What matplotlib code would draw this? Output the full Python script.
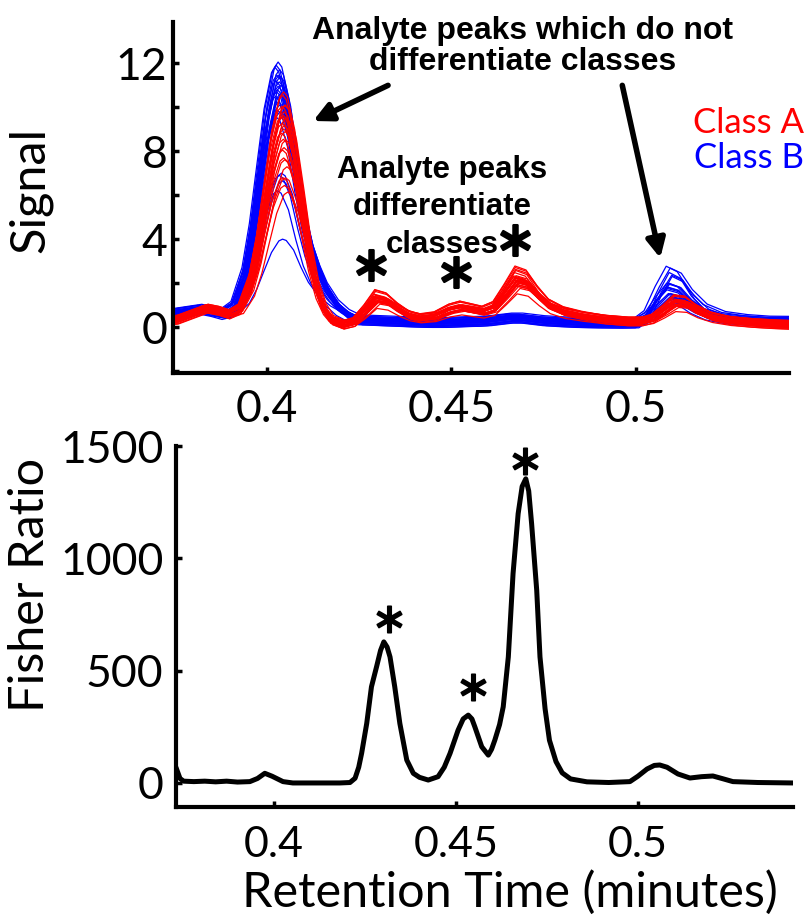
import matplotlib
matplotlib.use('Agg')
import matplotlib.pyplot as plt
from matplotlib.ticker import MultipleLocator
import numpy as np

# retention time grid (minutes) for the signal traces
rt = [0.370, 0.374, 0.378, 0.382, 0.385, 0.388, 0.391, 0.394, 0.396, 0.398,
      0.400, 0.402, 0.403, 0.404, 0.406, 0.408, 0.410, 0.412, 0.414, 0.416,
      0.419, 0.422, 0.425, 0.428, 0.431, 0.434, 0.437, 0.440, 0.444, 0.448,
      0.451, 0.454, 0.457, 0.460, 0.463, 0.466, 0.469, 0.472, 0.475, 0.479,
      0.484, 0.490, 0.496, 0.500, 0.503, 0.506, 0.509, 0.512, 0.515, 0.519,
      0.524, 0.530, 0.536, 0.542]

# class A (red) profiles
base_A = [0.30, 0.35, 0.60, 0.85, 0.75, 0.50, 0.35, 0.30, 0.30, 0.30,
          0.30, 0.30, 0.30, 0.30, 0.30, 0.30, 0.30, 0.28, 0.22, 0.15,
          0.12, 0.15, 0.20, 0.25, 0.28, 0.30, 0.30, 0.30, 0.30, 0.30,
          0.30, 0.30, 0.30, 0.30, 0.30, 0.30, 0.30, 0.30, 0.30, 0.30,
          0.30, 0.28, 0.25, 0.25, 0.25, 0.25, 0.25, 0.25, 0.22, 0.20,
          0.18, 0.15, 0.12, 0.10]
main_A = [0.0, 0.0, 0.0, 0.0, 0.0, 0.01, 0.056, 0.198, 0.375, 0.607,
          0.835, 0.98, 1.0, 0.98, 0.835, 0.60, 0.35, 0.17, 0.07, 0.02,
          0.0, 0.0, 0.0, 0.0, 0.0, 0.0, 0.0, 0.0, 0.0, 0.0,
          0.0, 0.0, 0.0, 0.0, 0.0, 0.0, 0.0, 0.0, 0.0, 0.0,
          0.0, 0.0, 0.0, 0.0, 0.0, 0.0, 0.0, 0.0, 0.0, 0.0,
          0.0, 0.0, 0.0, 0.0]
minor_A = [0.0, 0.0, 0.0, 0.0, 0.0, 0.0, 0.0, 0.0, 0.0, 0.0,
           0.0, 0.0, 0.0, 0.0, 0.0, 0.0, 0.0, 0.0, 0.0, 0.0,
           0.0, 0.10, 0.55, 1.10, 0.95, 0.55, 0.25, 0.12, 0.20, 0.50,
           0.62, 0.52, 0.42, 0.60, 1.25, 1.95, 1.80, 1.20, 0.70, 0.40,
           0.22, 0.08, 0.02, 0.02, 0.15, 0.50, 0.90, 0.85, 0.55, 0.28,
           0.12, 0.05, 0.02, 0.0]

# class B (blue) profiles
base_B = [0.60, 0.60, 0.70, 0.80, 0.70, 0.50, 0.35, 0.30, 0.32, 0.35,
          0.38, 0.40, 0.41, 0.42, 0.44, 0.46, 0.48, 0.48, 0.46, 0.42,
          0.38, 0.35, 0.32, 0.30, 0.28, 0.26, 0.24, 0.22, 0.20, 0.20,
          0.22, 0.24, 0.25, 0.28, 0.34, 0.40, 0.40, 0.34, 0.28, 0.24,
          0.20, 0.18, 0.17, 0.18, 0.20, 0.22, 0.24, 0.26, 0.28, 0.30,
          0.30, 0.28, 0.26, 0.25]
main_B = [0.0, 0.0, 0.0, 0.0, 0.0, 0.01, 0.056, 0.198, 0.375, 0.607,
          0.835, 0.98, 1.0, 0.98, 0.85, 0.62, 0.42, 0.29, 0.20, 0.13,
          0.06, 0.02, 0.0, 0.0, 0.0, 0.0, 0.0, 0.0, 0.0, 0.0,
          0.0, 0.0, 0.0, 0.0, 0.0, 0.0, 0.0, 0.0, 0.0, 0.0,
          0.0, 0.0, 0.0, 0.0, 0.0, 0.0, 0.0, 0.0, 0.0, 0.0,
          0.0, 0.0, 0.0, 0.0]
minor_B = [0.0, 0.0, 0.0, 0.0, 0.0, 0.0, 0.0, 0.0, 0.0, 0.0,
           0.0, 0.0, 0.0, 0.0, 0.0, 0.0, 0.0, 0.0, 0.0, 0.0,
           0.0, 0.0, 0.0, 0.0, 0.0, 0.0, 0.0, 0.0, 0.0, 0.0,
           0.0, 0.0, 0.0, 0.0, 0.0, 0.0, 0.0, 0.0, 0.0, 0.0,
           0.0, 0.0, 0.0, 0.0, 0.20, 0.80, 1.30, 1.15, 0.70, 0.30,
           0.10, 0.03, 0.0, 0.0]

# per-sample peak heights / offsets / time shifts
amp_A = [10.4, 10.1, 9.9, 9.7, 9.6, 9.5, 9.4, 9.3, 9.2, 9.1, 9.0, 8.9, 8.8,
         8.6, 8.5, 8.3, 8.1, 7.9, 7.7, 7.5, 7.3, 7.0, 6.6, 6.3, 6.1, 5.9]
mult_A = [1.0, 1.2, 0.9, 1.1, 0.85, 1.25, 0.95, 1.05, 0.8, 1.15, 0.98, 0.9,
          1.08, 0.75, 1.03, 0.93, 1.12, 0.86, 0.97, 0.72, 1.0, 0.88, 0.95,
          0.82, 0.92, 0.78]
off_A = [0.0, 0.15, -0.1, 0.05, 0.2, -0.15, 0.1, -0.05, 0.0, 0.18, -0.12,
         0.08, -0.2, 0.12, 0.03, -0.08, 0.15, -0.03, 0.06, -0.18, 0.1, 0.0,
         -0.1, 0.2, 0.05, -0.05]
shift_A = [0.0015, 0.0012, 0.0018, 0.0010, 0.0020, 0.0014, 0.0016, 0.0008,
           0.0022, 0.0013, 0.0017, 0.0011, 0.0019, 0.0015, 0.0009, 0.0021,
           0.0014, 0.0016, 0.0012, 0.0018, 0.0015, 0.0024, 0.0013, 0.0020,
           0.0017, 0.0026]

amp_B = [11.8, 11.4, 11.3, 11.2, 11.1, 11.0, 10.9, 10.8, 10.7, 10.6, 10.5,
         10.4, 10.3, 10.2, 10.1, 10.0, 9.9, 9.7, 9.5, 9.3, 9.0, 6.7, 6.5,
         6.2, 6.0, 3.5]
mult_B = [1.85, 1.1, 0.9, 1.8, 0.95, 1.3, 0.85, 1.75, 1.05, 0.8, 1.7, 1.0,
          0.9, 1.15, 1.6, 0.95, 1.2, 0.85, 1.4, 0.75, 1.1, 0.7, 1.0, 0.65,
          0.8, 0.6]
off_B = [-0.15, 0.1, 0.0, 0.2, -0.1, 0.05, 0.15, -0.2, 0.1, -0.05, 0.25,
         0.0, -0.1, 0.1, 0.05, -0.15, 0.2, 0.0, -0.05, 0.1, 0.15, -0.1, 0.0,
         0.05, -0.2, 0.1]
shift_B = [0.0, -0.0005, 0.0004, -0.0008, 0.0006, 0.0002, -0.0003, 0.0008,
           -0.0006, 0.0, 0.0003, -0.0002, 0.0005, -0.0004, 0.0007, 0.0001,
           -0.0007, 0.0004, -0.0001, 0.0006, -0.0005, 0.0009, 0.0003, 0.0011,
           -0.0002, 0.0012]

# Fisher ratio trace
fisher_rt = [0.3733, 0.3742, 0.3752, 0.3780, 0.3810, 0.3840, 0.3870, 0.3900,
             0.3934, 0.3955, 0.3975, 0.3995, 0.4025, 0.4052, 0.4100, 0.4150,
             0.4181, 0.4209, 0.4223, 0.4233, 0.4241, 0.4255, 0.4268, 0.4282,
             0.4293, 0.4302, 0.4311, 0.4319, 0.4332, 0.4346, 0.4365, 0.4383,
             0.4400, 0.4424, 0.4451, 0.4468, 0.4484, 0.4506, 0.4520, 0.4534,
             0.4544, 0.4552, 0.4571, 0.4589, 0.4598, 0.4607, 0.4620, 0.4630,
             0.4644, 0.4657, 0.4671, 0.4682, 0.4692, 0.4700, 0.4708, 0.4722,
             0.4731, 0.4745, 0.4757, 0.4775, 0.4792, 0.4815, 0.4860, 0.4920,
             0.4978, 0.5000, 0.5025, 0.5045, 0.5060, 0.5080, 0.5110, 0.5143,
             0.5175, 0.5206, 0.5235, 0.5261, 0.5330, 0.5426]
fisher_val = [60, 20, 8, 6, 8, 5, 8, 4, 6, 20, 43, 30, 6, 0, 0, 0,
              0, 2, 21, 70, 132, 265, 428, 517, 590, 628, 605, 561, 428,
              265, 102, 43, 25, 13, 28, 70, 132, 235, 285, 302, 285, 250,
              161, 124, 150, 191, 260, 339, 561, 932, 1199, 1320, 1354,
              1300, 1154, 858, 561, 330, 190, 95, 45, 18, 5, 2, 6, 30, 62,
              78, 80, 70, 40, 22, 28, 31, 18, 6, 2, 0]

star_top_rt = [0.4282, 0.4513, 0.4673]
star_top_val = [2.85, 2.5, 3.95]
star_bot_rt = [0.4317, 0.4548, 0.4690]
star_bot_val = [732, 428, 1435]

xticks = [0.4, 0.45, 0.5]
xticklabels = ['0.4', '0.45', '0.5']

cal = 'Lato'
bold = 'Liberation Sans'

fig = plt.figure(figsize=(8.08, 9.16), dpi=100)
ax1 = fig.add_axes([0.2141, 0.5931, 0.7624, 0.3829])
ax2 = fig.add_axes([0.2178, 0.1190, 0.7636, 0.3941])

x = np.array(rt)
for i in range(len(amp_B)):
    y = np.array(base_B) + off_B[i] + amp_B[i] * np.array(main_B) + mult_B[i] * np.array(minor_B)
    ax1.plot(x + shift_B[i], y, color='#0000ff', lw=0.9)
for i in range(len(amp_A)):
    y = np.array(base_A) + off_A[i] + amp_A[i] * np.array(main_A) + mult_A[i] * np.array(minor_A)
    ax1.plot(x + shift_A[i], y, color='#ff0000', lw=0.9)

ax2.plot(fisher_rt, fisher_val, color='k', lw=3.6, solid_joinstyle='round')

for ax in (ax1, ax2):
    ax.spines['top'].set_visible(False)
    ax.spines['right'].set_visible(False)
    ax.spines['left'].set_linewidth(3)
    ax.spines['bottom'].set_linewidth(3)
    ax.tick_params(which='both', direction='in', length=4, width=2.5)
    ax.set_xticks(xticks)
    ax.set_xticklabels(xticklabels, family=cal)

ax1.tick_params(axis='x', labelsize=32, pad=12)
ax2.tick_params(axis='x', labelsize=31, pad=14)

ax1.set_xlim(0.3745, 0.5415)
ax1.set_ylim(-2.06, 13.88)
ax1.set_yticks([0, 4, 8, 12])
ax1.yaxis.set_minor_locator(MultipleLocator(2))
ax1.tick_params(axis='y', labelsize=32, pad=4)
ax1.set_yticklabels(['0', '4', '8', '12'], family=cal)
ax1.set_ylabel('Signal', fontsize=35, family=cal, va='center')
ax1.yaxis.set_label_coords(-0.232, 0.52)

ax2.set_xlim(0.3731, 0.5426)
ax2.set_ylim(-107, 1500)
ax2.set_yticks([0, 500, 1000, 1500])
ax2.tick_params(axis='y', labelsize=32, pad=9)
ax2.set_yticklabels(['0', '500', '1000', '1500'], family=cal)
ax2.set_ylabel('Fisher Ratio', fontsize=35, family=cal, va='center')
ax2.yaxis.set_label_coords(-0.237, 0.615)
ax2.set_xlabel('Retention Time (minutes)', fontsize=35, family=cal, va='center')
ax2.xaxis.set_label_coords(0.541, -0.237)

ax1.plot(star_top_rt, star_top_val, ls='none', marker=r'$\ast$', ms=22,
         color='k', mew=1.8, clip_on=False)
ax2.plot(star_bot_rt, star_bot_val, ls='none', marker=r'$\ast$', ms=19,
         color='k', mew=1.2, clip_on=False)

ax1.annotate('', xy=(0.4125, 9.38), xytext=(0.4328, 11.0),
             arrowprops=dict(arrowstyle='-|>', lw=4, color='k', mutation_scale=28,
                             shrinkA=0, shrinkB=0))
ax1.annotate('', xy=(0.5066, 3.15), xytext=(0.4963, 11.0),
             arrowprops=dict(arrowstyle='-|>', lw=4, color='k', mutation_scale=28,
                             shrinkA=0, shrinkB=0))
ax1.text(0.4692, 12.75, 'Analyte peaks which do not\ndifferentiate classes',
         ha='center', va='center', fontsize=23, fontweight='bold', family=bold,
         linespacing=1.05, clip_on=False)
ax1.text(0.4475, 5.45, 'Analyte peaks\ndifferentiate\nclasses',
         ha='center', va='center', fontsize=22.5, fontweight='bold', family=bold,
         linespacing=1.33)
ax1.text(0.5455, 9.3, 'Class A', color='#ff0000', ha='right', va='center',
         fontsize=25, family=cal, clip_on=False)
ax1.text(0.5455, 7.7, 'Class B', color='#0000ff', ha='right', va='center',
         fontsize=25, family=cal, clip_on=False)

fig.savefig('out.png', dpi=100)
